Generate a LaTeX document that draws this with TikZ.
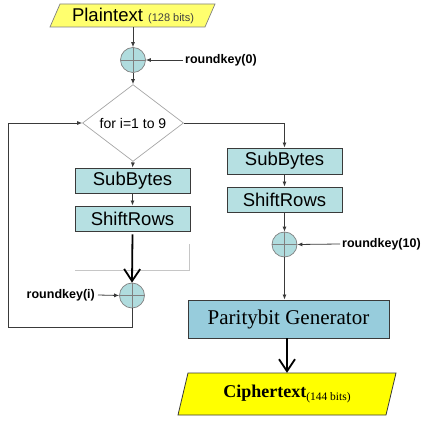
\documentclass[tikz,border=0pt]{standalone}
\usepackage{fontspec}
\setmainfont{Liberation Sans}
\newfontfamily\serifface{Liberation Serif}
\usetikzlibrary{shapes.geometric,arrows.meta}
\definecolor{boxfill}{HTML}{B6E0E2}
\definecolor{xorfill}{HTML}{B0DCDE}
\definecolor{pgfill}{HTML}{97CCDC}
\definecolor{ptfill}{HTML}{FFFF6E}
\definecolor{ctfill}{HTML}{FFFF00}
\definecolor{linec}{HTML}{3A3A3A}
\begin{document}
\begin{tikzpicture}[x=1pt,y=-1pt,
  stepbox/.style={draw=linec,fill=boxfill,line width=0.9pt,minimum width=115pt,inner sep=0pt,font=\fontsize{18.5}{20}\selectfont},
  xor/.style={circle,draw=gray,fill=xorfill,line width=0.7pt,minimum size=25pt,inner sep=0pt,
    path picture={\draw[gray,line width=0.7pt] (path picture bounding box.north) -- (path picture bounding box.south) (path picture bounding box.west) -- (path picture bounding box.east);}},
  thin/.style={draw=linec,line width=0.8pt},
  arr/.style={thin,-{Latex[length=5pt,width=4pt]}},
  bigarr/.style={draw=black,line width=1.8pt,-{Straight Barb[length=12pt,width=16pt,line width=1.8pt]}},
  keytext/.style={font=\bfseries\fontsize{12.5}{14}\selectfont,inner sep=0pt},
  artifact/.style={draw=gray!45,line width=0.8pt}
]
\useasboundingbox (0,0) rectangle (423,422);
% Plaintext
\draw[draw=gray,fill=ptfill,line width=0.7pt] (60,4) -- (215,4) -- (205,27) -- (50,27) -- cycle;
\node[minimum height=23pt,inner sep=0pt] (pt) at (133,15.5) {\fontsize{18.5}{20}\selectfont Plaintext \fontsize{11}{12}\selectfont\color{black!75}(128 bits)};
% XOR 1
\node[xor] (c1) at (133,60) {};
\node[keytext,anchor=west] (rk0) at (185,60) {roundkey(0)};
% Diamond
\node[diamond,draw=gray!70,line width=0.7pt,minimum width=101pt,minimum height=50pt,inner sep=0pt,font=\fontsize{14}{16}\selectfont] (loop) at (133,123) {for i=1 to 9};
% Left branch
\node[stepbox,minimum height=25pt] (sb1) at (132.5,180.5) {SubBytes};
\node[stepbox,minimum height=25pt] (sr1) at (132.5,218.5) {ShiftRows};
\node[xor] (c2) at (132,295.5) {};
\node[keytext,anchor=east] (rki) at (95,295) {roundkey(i)};
\coordinate (lb) at (132,327);
\coordinate (ll) at (8,327);
\coordinate (lt) at (8,123);
% Right branch
\coordinate (rt) at (284.5,123);
\node[stepbox,minimum height=26pt] (sb2) at (284.5,161) {SubBytes};
\node[stepbox,minimum height=25pt] (sr2) at (284.5,199.5) {ShiftRows};
\node[xor] (c3) at (284.5,244.5) {};
\node[keytext,anchor=west] (rk10) at (342,244) {roundkey(10)};
\node[draw=linec,fill=pgfill,line width=0.9pt,minimum width=201pt,minimum height=38pt,inner sep=0pt,font=\serifface\fontsize{21}{24}\selectfont] (pg) at (288.5,319) {Paritybit Generator};
% Ciphertext
\draw[draw=linec,fill=ctfill,line width=0.8pt] (188,373) -- (396,373) -- (386,415) -- (178,415) -- cycle;
\node[minimum height=42pt,inner sep=0pt] (ct) at (287,394) {\serifface\bfseries\fontsize{18}{20}\selectfont Ciphertext\raisebox{-2.5pt}{\mdseries\fontsize{11.5}{12}\selectfont(144 bits)}};
% artifacts
\coordinate (a1) at (75,270);
\coordinate (a2) at (189.5,270);
\coordinate (a3) at (189.5,244);
\draw[artifact] (a1) -- (a2) -- (a3);
% connectors
\draw[arr] (pt.south) -- (c1.north);
\draw[arr] (rk0.west) ++(-2,0) -- (c1.east);
\draw[arr] (c1.south) -- (loop.north);
\draw[arr] (loop.south) -- (sb1.north);
\draw[arr] (sb1.south) -- (sr1.north);
\draw[bigarr] (sr1.south) ++(0,3) -- (c2.north);
\draw[arr] (rki.east) ++(3,0) -- (c2.west);
\draw[arr] (c2.south) -- (lb) -- (ll) -- (lt) -- (loop.west);
\draw[arr] (loop.east) -- (rt) -- (sb2.north);
\draw[arr] (sb2.south) -- (sr2.north);
\draw[arr] (sr2.south) -- (c3.north);
\draw[arr] (rk10.west) ++(-2,0) -- (c3.east);
\draw[arr] (c3.south) -- (c3.south |- pg.north);
\draw[bigarr] (pg.south -| ct.north) -- (ct.north);
\end{tikzpicture}
\end{document}
